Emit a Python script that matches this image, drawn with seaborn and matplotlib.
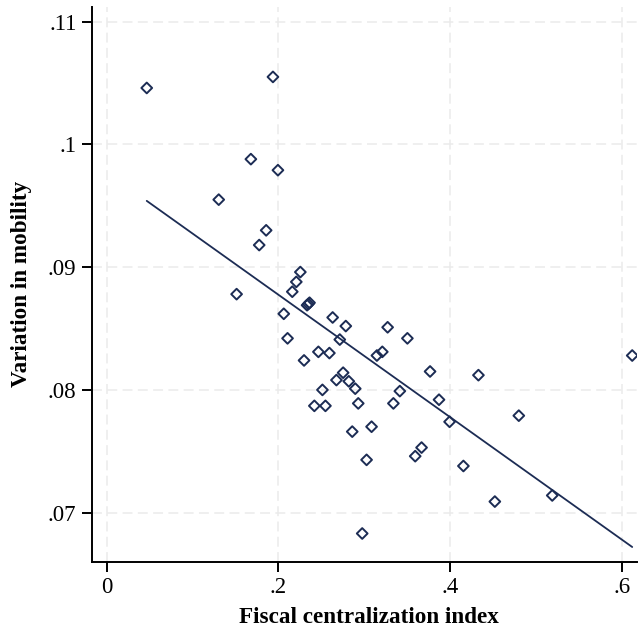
import matplotlib
matplotlib.use("Agg")
import matplotlib.pyplot as plt
import numpy as np
import pandas as pd
import seaborn as sns

# data
fiscal_index = [
    0.0467, 0.1936, 0.1679, 0.1994, 0.1305, 0.1857, 0.1776, 0.1513, 0.2255, 0.2208,
    0.2161, 0.2333, 0.2348, 0.2362, 0.2062, 0.2631, 0.2784, 0.3271, 0.3501, 0.2714,
    0.2106, 0.2465, 0.2593, 0.3209, 0.3146, 0.2298, 0.3765, 0.4328, 0.2753, 0.2675,
    0.2819, 0.2894, 0.2512, 0.3413, 0.3869, 0.2418, 0.2547, 0.2929, 0.3338, 0.3992,
    0.2859, 0.3084, 0.4798, 0.3666, 0.3592, 0.3026, 0.4153, 0.4519, 0.2975, 0.6118,
    0.5187,
]
mobility_var = [
    0.1046, 0.1055, 0.0988, 0.0979, 0.0955, 0.0930, 0.0918, 0.0878, 0.0896, 0.0888,
    0.0880, 0.0869, 0.0870, 0.0871, 0.0862, 0.0859, 0.0852, 0.0851, 0.0842, 0.0841,
    0.0842, 0.0831, 0.0830, 0.0831, 0.0828, 0.0824, 0.0815, 0.0812, 0.0814, 0.0808,
    0.0807, 0.0801, 0.0800, 0.0799, 0.0792, 0.0787, 0.0787, 0.0789, 0.0789, 0.0774,
    0.0766, 0.0770, 0.0779, 0.0753, 0.0746, 0.0743, 0.0738, 0.0709, 0.0683, 0.0828,
    0.0714,
]

# fitted line (linear fit) as drawn in the reference
fit_x = [0.0467, 0.6118]
fit_y = [0.0954, 0.0672]

x_ticks = [0, 0.2, 0.4, 0.6]
x_tick_labels = ["0", ".2", ".4", ".6"]
y_ticks = [0.07, 0.08, 0.09, 0.10, 0.11]
y_tick_labels = [".07", ".08", ".09", ".1", ".11"]

navy = "#1c2c54"

sns.set_theme(style="white")
plt.rcParams["font.family"] = ["Liberation Serif", "DejaVu Serif"]
plt.rcParams["text.color"] = "black"
plt.rcParams["axes.labelcolor"] = "black"

df = pd.DataFrame({"fci": fiscal_index, "var": mobility_var})
fit_df = pd.DataFrame({"fci": fit_x, "var": fit_y})

fig = plt.figure(figsize=(6.38, 6.32), dpi=100)
ax = fig.add_axes([0.1437, 0.1112, 0.8553, 0.8778])

sns.regplot(
    data=df, x="fci", y="var", ax=ax, fit_reg=False, marker="D", color=navy,
    scatter_kws={"facecolors": "none", "edgecolors": navy, "s": 30,
                 "linewidths": 1.4, "alpha": 1, "zorder": 3},
)
sns.lineplot(data=fit_df, x="fci", y="var", ax=ax, color=navy, lw=1.3,
             zorder=2)

ax.set_xlim(-0.0174, 0.6178)
ax.set_ylim(0.0660, 0.1112)
ax.set_xticks(x_ticks)
ax.set_xticklabels(x_tick_labels)
ax.set_yticks(y_ticks)
ax.set_yticklabels(y_tick_labels)

ax.grid(True, color="#ebebeb", linestyle=(0, (6.5, 3.5)), linewidth=1.1, zorder=0)
ax.set_axisbelow(True)

for side in ["top", "right"]:
    ax.spines[side].set_visible(False)
for side in ["left", "bottom"]:
    ax.spines[side].set_color("black")
    ax.spines[side].set_linewidth(1.4)

ax.tick_params(axis="both", which="major", direction="out", length=7, width=1.4,
               color="black", labelsize=16.5, labelcolor="black", pad=4,
               left=True, bottom=True)

ax.set_xlabel("Fiscal centralization index", fontsize=16.7, fontweight="bold",
              color="black")
ax.set_ylabel("Variation in mobility", fontsize=16.7, fontweight="bold",
              color="black")
ax.xaxis.set_label_coords(0.509, -0.081)
ax.yaxis.set_label_coords(-0.11, 0.5)

fig.savefig("out.png", dpi=100)
